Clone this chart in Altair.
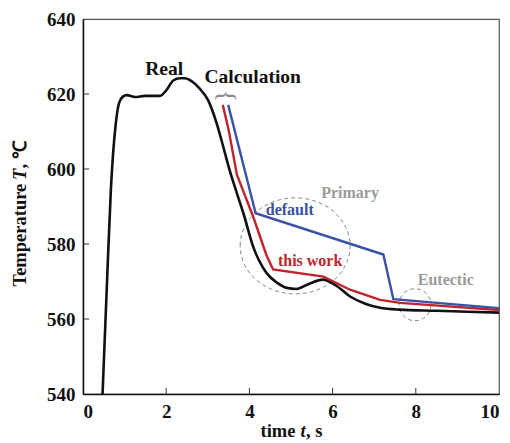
import altair as alt
import pandas as pd

# ---- data ----
real_t = [0.47, 0.57, 0.67, 0.79, 0.87, 0.96, 1.05, 1.25, 1.5, 1.85, 2.01, 2.17, 2.33, 2.45, 2.6, 2.8,
          3.0, 3.21, 3.37, 3.53, 3.7, 3.85, 4.09, 4.41, 4.66, 4.9, 5.13, 5.4, 5.77, 6.1, 6.42, 6.8,
          7.14, 7.6, 8.5, 10.0]
real_T = [540.0, 567.8, 594.5, 612.3, 617.7, 619.3, 619.7, 619.2, 619.5, 619.5, 621.1, 623.6, 624.2, 624.2, 623.5, 621.5,
          618.5, 612.3, 606.0, 599.5, 593.5, 588.4, 579.3, 572.3, 569.7, 568.3, 568.0, 569.2, 570.5, 568.8, 566.0, 564.0,
          563.0, 562.5, 562.2, 561.7]

this_t = [3.36, 3.5, 3.7, 4.1, 4.41, 4.57, 5.78, 6.42, 7.14, 7.62, 10.0]
this_T = [617.1, 610.5, 598.5, 587.0, 577.0, 573.2, 571.3, 567.8, 565.1, 564.3, 562.4]

def_t = [3.49, 4.15, 7.22, 7.46, 10.0]
def_T = [617.1, 588.2, 577.2, 565.3, 562.9]

x_ticks = [0, 2, 4, 6, 8, 10]
y_ticks = [540, 560, 580, 600, 620, 640]
inner_x_ticks = [2, 4, 6, 8]
inner_y_ticks = [560, 580, 600, 620]

labels = ["Real", "Calculation", "Primary", "default", "this work", "Eutectic"]
label_t = [1.95, 4.08, 6.42, 4.97, 5.46, 8.72]
label_T = [626.6, 624.6, 593.6, 589.1, 575.4, 570.5]
label_color = ["#111111", "#111111", "#9a9a9a", "#3a51a6", "#c0242c", "#9a9a9a"]

# axis title pieces (text, italic?)
x_title_parts = ["time", "t", ", s"]
y_title_parts = ["Temperature", "T", ", ℃"]

brace_t = [3.47]
brace_T = [619.5]

big_ellipse_t = [5.10]
big_ellipse_T = [579.5]
small_circle_t = [7.98]
small_circle_T = [563.8]

FONT = "Liberation Serif"
W, H = 416, 375

xs = alt.Scale(domain=[0, 10], nice=False, zero=False)
ys = alt.Scale(domain=[540, 640], nice=False, zero=False)

def curve_df(t, T):
    return pd.DataFrame({"t": t, "T": T})

xenc = alt.X("t:Q", scale=xs,
             axis=alt.Axis(values=x_ticks, title="", format="d", tickSize=0,
                           labelPadding=8, domainColor="#111", domainWidth=1.5, grid=False))
yenc = alt.Y("T:Q", scale=ys,
             axis=alt.Axis(values=y_ticks, title="", format="d", tickSize=0,
                           labelPadding=8, domainColor="#111", domainWidth=1.5, grid=False))

real = alt.Chart(curve_df(real_t, real_T)).mark_line(
    color="#111111", strokeWidth=2.6, interpolate="monotone", clip=True
).encode(x=xenc, y=yenc)

this = alt.Chart(curve_df(this_t, this_T)).mark_line(
    color="#c0242c", strokeWidth=2.4, clip=True
).encode(x="t:Q", y="T:Q")

default = alt.Chart(curve_df(def_t, def_T)).mark_line(
    color="#3a51a6", strokeWidth=2.4, clip=True
).encode(x="t:Q", y="T:Q")

# inward ticks
xt = alt.Chart(pd.DataFrame({"t": inner_x_ticks})).mark_rule(color="#333", strokeWidth=1).encode(
    x="t:Q", y=alt.value(H), y2=alt.value(H - 6))
yt = alt.Chart(pd.DataFrame({"T": inner_y_ticks})).mark_rule(color="#333", strokeWidth=1).encode(
    y="T:Q", x=alt.value(0), x2=alt.value(6))

lab_df = pd.DataFrame({"t": label_t, "T": label_T, "txt": labels, "c": label_color})
lab_big = alt.Chart(lab_df.iloc[:2]).mark_text(
    font=FONT, fontWeight="bold", fontSize=19.5, baseline="middle", align="center"
).encode(x="t:Q", y="T:Q", text="txt:N", color=alt.Color("c:N", scale=None))
lab_small = alt.Chart(lab_df.iloc[2:]).mark_text(
    font=FONT, fontWeight="bold", fontSize=16, baseline="middle", align="center"
).encode(x="t:Q", y="T:Q", text="txt:N", color=alt.Color("c:N", scale=None))

brace = alt.Chart(pd.DataFrame({"t": brace_t, "T": brace_T, "txt": ["{"]})).mark_text(
    font=FONT, fontSize=26, angle=90, color="#8a8a8a", baseline="middle", align="center"
).encode(x="t:Q", y="T:Q", text="txt:N")

k = 0.873
ell_path = (f"M -1 0 C -1 {-0.5523*k:.4f} -0.5523 {-k} 0 {-k} "
            f"C 0.5523 {-k} 1 {-0.5523*k:.4f} 1 0 "
            f"C 1 {0.5523*k:.4f} 0.5523 {k} 0 {k} "
            f"C -0.5523 {k} -1 {0.5523*k:.4f} -1 0 Z")
big = alt.Chart(pd.DataFrame({"t": big_ellipse_t, "T": big_ellipse_T})).mark_point(
    shape=ell_path, size=110 * 110, filled=False, color="#8a8a8a", strokeWidth=1,
    strokeDash=[4, 3], opacity=1
).encode(x="t:Q", y="T:Q")
small = alt.Chart(pd.DataFrame({"t": small_circle_t, "T": small_circle_T})).mark_point(
    shape="circle", size=32 * 32, filled=False, color="#8a8a8a", strokeWidth=1,
    strokeDash=[4, 3], opacity=1
).encode(x="t:Q", y="T:Q")

# axis titles with an italic symbol, built from pieces
TS = 18.5
one = pd.DataFrame({"d": [0]})
def title_piece(txt, italic, **pos):
    return alt.Chart(one).mark_text(
        text=txt, font=FONT, fontSize=TS, fontWeight="bold",
        fontStyle="italic" if italic else "normal", color="#111",
        baseline="alphabetic", align="left", **({"angle": 270} if pos.pop("rot", False) else {})
    ).encode(**pos)

xt1 = title_piece(x_title_parts[0], False, x=alt.value(177.5), y=alt.value(417.5))
xt2 = title_piece(x_title_parts[1], True, x=alt.value(217.5), y=alt.value(417.5))
xt3 = title_piece(x_title_parts[2], False, x=alt.value(223.0), y=alt.value(417.5))

yt1 = title_piece(y_title_parts[0], False, rot=True, x=alt.value(-57.5), y=alt.value(267.5))
yt2 = title_piece(y_title_parts[1], True, rot=True, x=alt.value(-57.5), y=alt.value(161.0))
yt3 = title_piece(y_title_parts[2], False, rot=True, x=alt.value(-57.5), y=alt.value(149.5))

chart = alt.layer(big, small, real, this, default, xt, yt, lab_big, lab_small, brace,
                  xt1, xt2, xt3, yt1, yt2, yt3).properties(
    width=W, height=H,
    autosize=alt.AutoSizeParams(type="none"),
    padding={"left": 83, "top": 19, "right": 11, "bottom": 49},
    background="white",
).configure_view(stroke="#555", strokeWidth=1.2).configure_axis(
    labelFont=FONT, labelFontSize=19, labelFontWeight="bold", labelColor="#111",
    titleFont=FONT, titleFontSize=18, titleFontWeight="bold", titleColor="#111",
)

chart.save("out.html", embed_options={"renderer": "svg", "actions": False})
